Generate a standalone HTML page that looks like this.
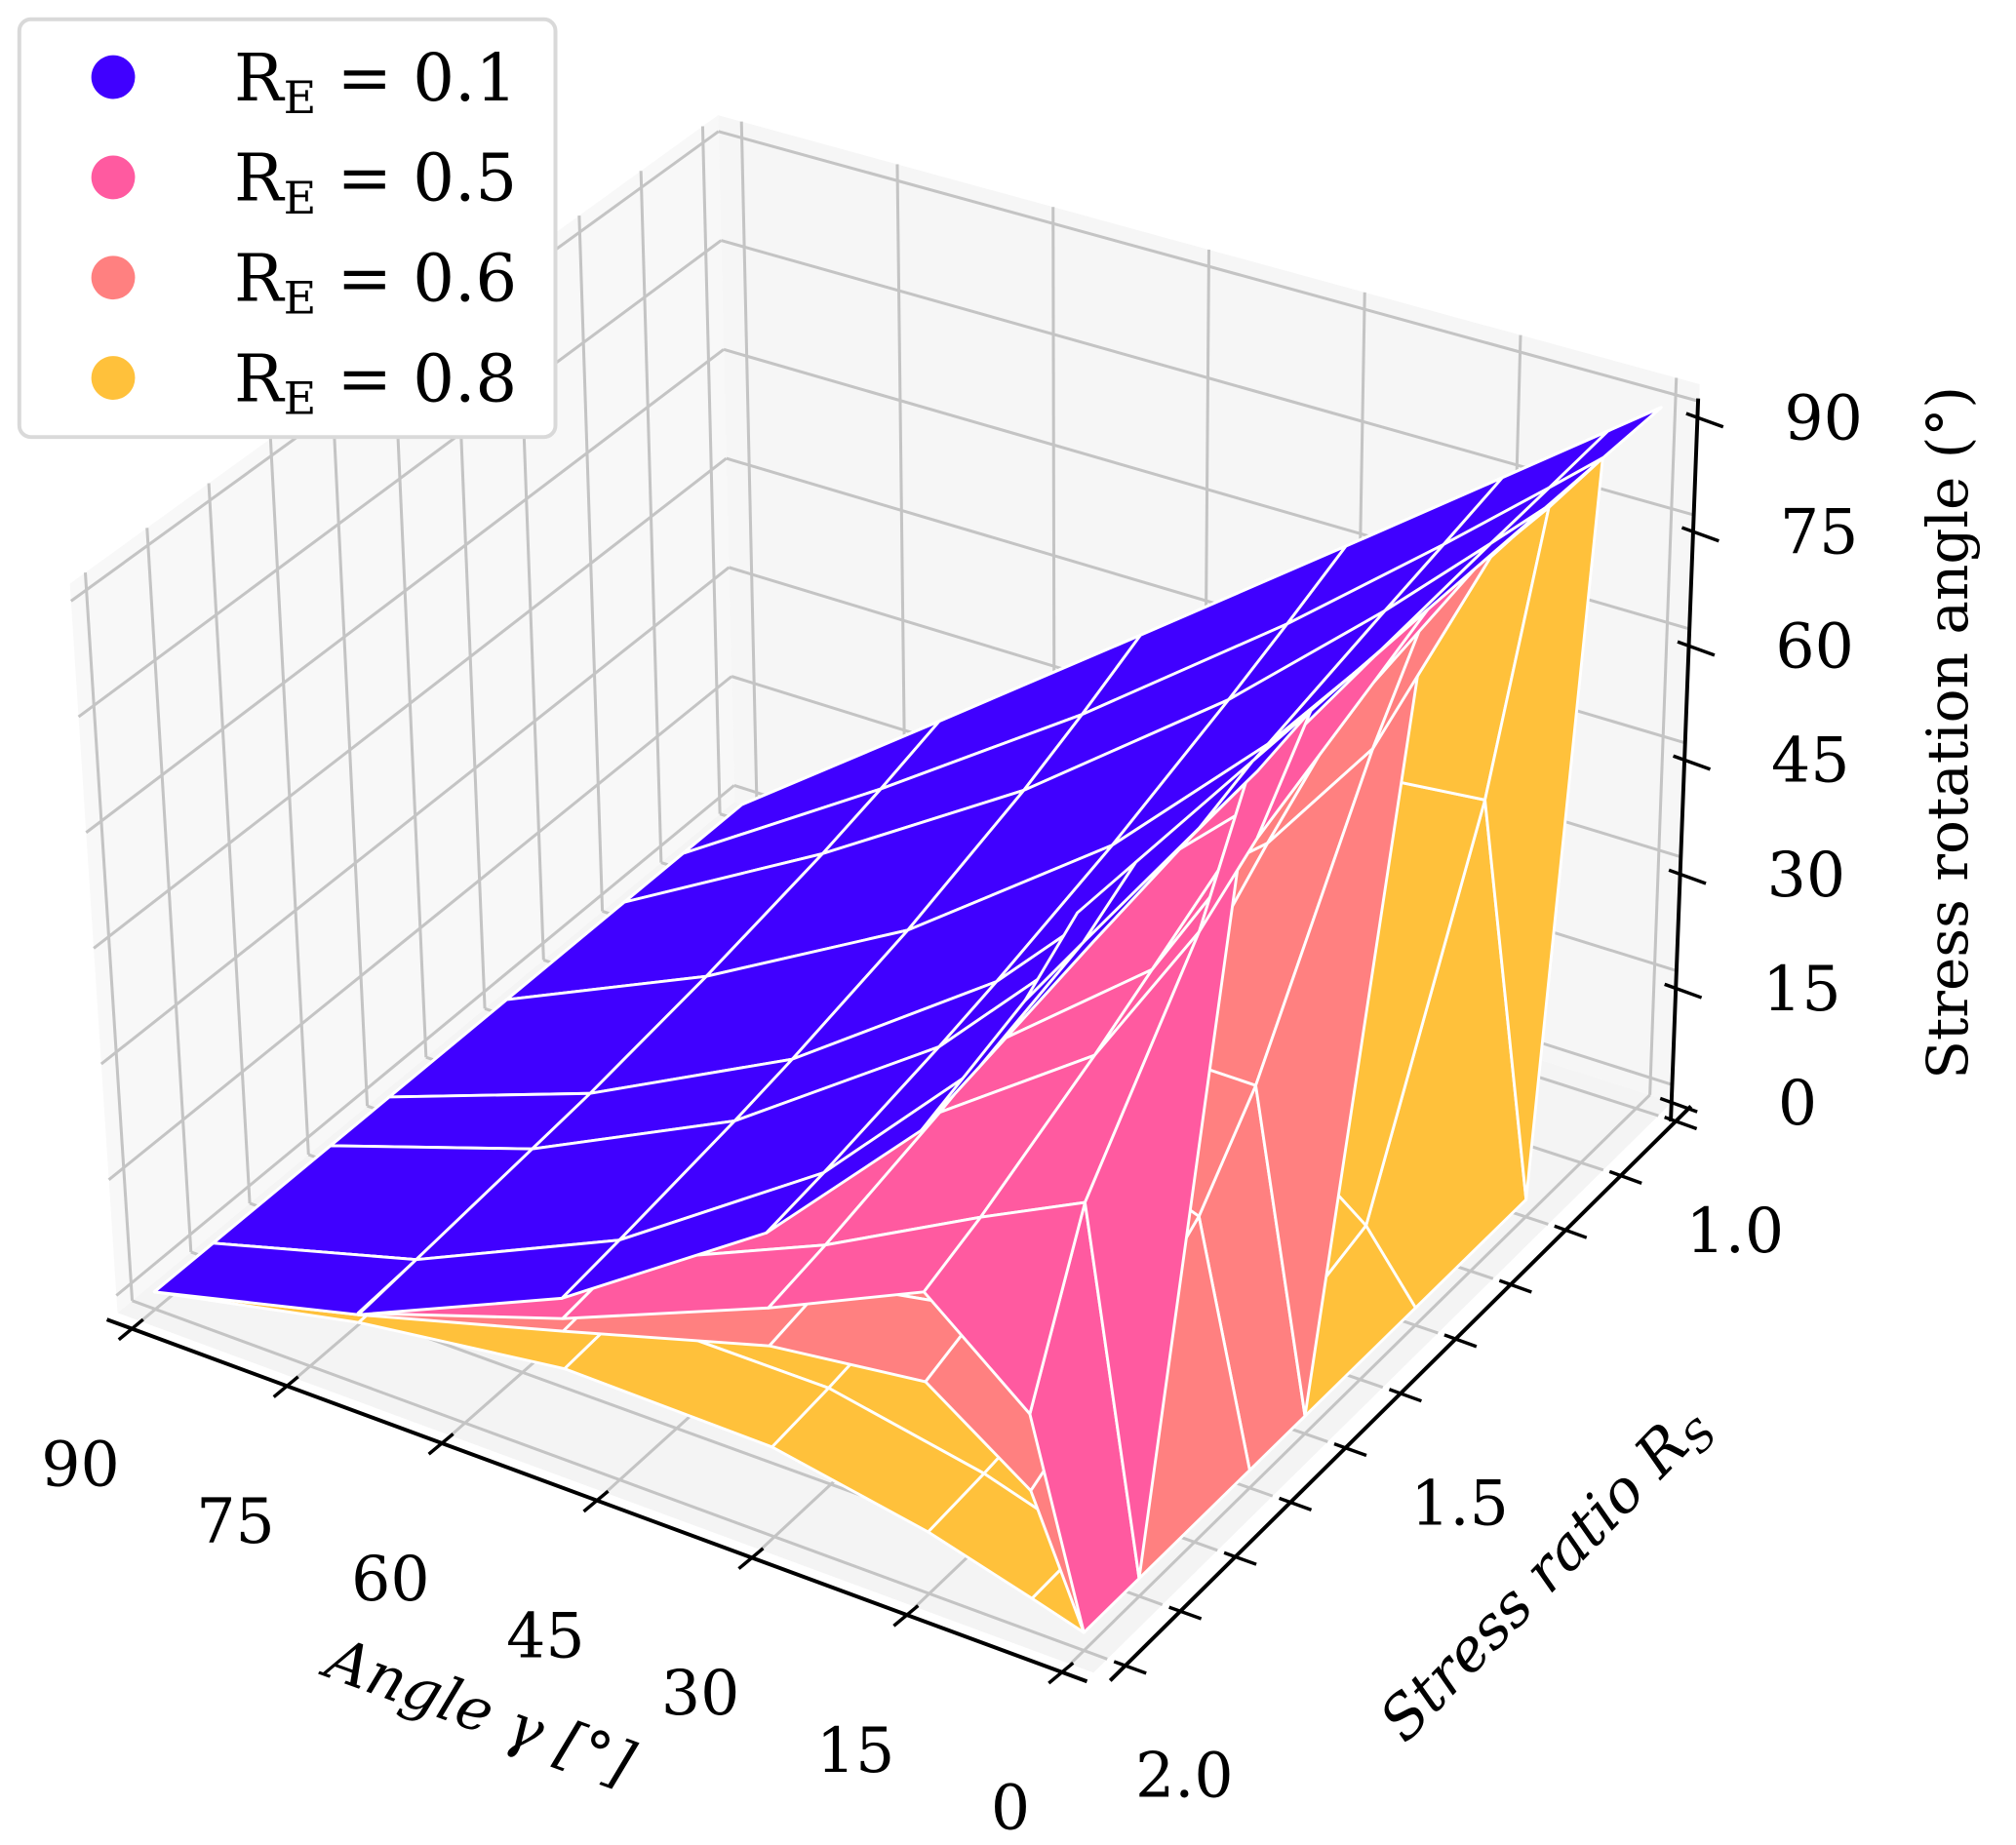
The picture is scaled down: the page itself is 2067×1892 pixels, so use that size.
<!DOCTYPE html>
<html>
<head>
<meta charset="utf-8">
<style>
html,body{margin:0;padding:0;background:#fff;}
svg{display:block;}
text{font-family:"DejaVu Serif","Liberation Serif",serif;fill:#000;}
</style>
</head>
<body>
<svg id="chart" xmlns="http://www.w3.org/2000/svg" width="2067" height="1892" viewBox="0 0 1568 1435.3">
  <rect x="0" y="0" width="1568" height="1436" fill="#ffffff"/>
  <g id="panes"></g>
  <g id="grid"></g>
  <g id="surfs"></g>
  <g id="axes"></g>
  <g id="labels"></g>

  <text font-size="46" font-style="italic" text-anchor="middle" transform="translate(368,1346) rotate(20)">Angle γ [°]</text>
  <text font-size="46" font-style="italic" text-anchor="middle" transform="translate(1212,1234) rotate(-46)">Stress ratio R<tspan font-size="32" dy="9">S</tspan></text>
  <text font-size="44" text-anchor="middle" transform="translate(1530,570) rotate(-90)">Stress rotation angle (°)</text>

  <g>
    <rect x="15" y="15" width="417" height="325" rx="9" ry="9" fill="#ffffff" stroke="#d9d9d9" stroke-width="3"/>
    <g>
      <circle cx="88" cy="60" r="17" fill="#4000FF"/>
      <text x="182" y="78" font-size="51">R<tspan font-size="35" dy="10">E</tspan><tspan dy="-10"> = 0.1</tspan></text>
    </g>
    <g>
      <circle cx="88" cy="138" r="17" fill="#FF5AA0"/>
      <text x="182" y="156" font-size="51">R<tspan font-size="35" dy="10">E</tspan><tspan dy="-10"> = 0.5</tspan></text>
    </g>
    <g>
      <circle cx="88" cy="216" r="17" fill="#FF8080"/>
      <text x="182" y="234" font-size="51">R<tspan font-size="35" dy="10">E</tspan><tspan dy="-10"> = 0.6</tspan></text>
    </g>
    <g>
      <circle cx="88" cy="294" r="17" fill="#FFC13B"/>
      <text x="182" y="312" font-size="51">R<tspan font-size="35" dy="10">E</tspan><tspan dy="-10"> = 0.8</tspan></text>
    </g>
  </g>
</svg>
<script>
// ---- data ----
const gammaVals = [90, 70, 50, 30, 15, 5, 0];
const rsVals = [1.0, 1.1, 1.2, 1.4, 1.6, 1.7, 1.9, 2.0];
const zBlue = [
  [0, 0, 0, 0, 0, 0, 0, 0],
  [20, 17.5, 15.4, 12.2, 9.8, 9.0, 7.5, 6.8],
  [40, 36.0, 32.5, 27.2, 23.4, 21.9, 19.5, 18.5],
  [60, 56.3, 52.9, 47.0, 42.4, 40.5, 37.4, 36.2],
  [75, 72.8, 70.7, 66.5, 62.6, 60.7, 57.5, 56.0],
  [85, 84.2, 83.5, 81.9, 80.2, 79.4, 77.7, 76.8],
  [90, 90, 90, 90, 90, 90, 90, 90]
];
const zPink = [
  [0, 0, 0, 0, 0, 0, 0, 0],
  [20, 16.9, 14.5, 11.4, 9.4, 8.7, 7.5, 7.0],
  [40, 34.8, 30.5, 24.5, 20.5, 19.0, 16.8, 15.9],
  [60, 55.0, 50.0, 41.2, 34.6, 32.1, 28.2, 26.7],
  [75, 71.9, 68.3, 59.7, 50.5, 46.1, 38.6, 35.7],
  [85, 83.9, 82.5, 78.6, 71.6, 66.2, 45, 25],
  [90, 90, 90, 90, 90, 90, 0, 0]
];
const zCoral = [
  [0, 0, 0, 0, 0, 0, 0, 0],
  [20, 16.4, 14.0, 10.8, 9.0, 8.3, 7.2, 6.8],
  [40, 34.0, 29.2, 22.7, 18.7, 17.3, 15.1, 14.3],
  [60, 54.0, 47.9, 37.3, 29.9, 27.3, 23.4, 21.9],
  [75, 71.2, 66.3, 53.6, 40.1, 34.8, 27.0, 24.4],
  [85, 83.6, 81.7, 70, 40, 30, 19.3, 15.4],
  [90, 90, 90, 90, 0, 0, 0, 0]
];
const zYellow = [
  [0, 0, 0, 0, 0, 0, 0, 0],
  [20, 14.6, 11.7, 8.8, 7.2, 6.8, 6.0, 5.8],
  [40, 30.1, 23.4, 16.4, 12.9, 11.7, 10.1, 9.5],
  [60, 48.2, 36.0, 20.9, 14.3, 12.5, 10.0, 9.1],
  [75, 66.2, 48.7, 18.3, 10.1, 8.3, 6.2, 5.5],
  [85, 81.6, 50, 8.4, 3.8, 3.1, 2.2, 1.9],
  [90, 90, 0, 0, 0, 0, 0, 0]
];
const gammaTicks = [90, 75, 60, 45, 30, 15, 0];
const gammaTickLabels = ['90', '75', '60', '45', '30', '15', '0'];
const rsTicks = [1.0, 1.1, 1.2, 1.3, 1.4, 1.5, 1.6, 1.7, 1.8, 1.9, 2.0];
const rsLabelVals = [1.0, 1.5, 2.0];
const rsTickLabels = ['1.0', '1.5', '2.0'];
const zTicks = [0, 15, 30, 45, 60, 75, 90];
const zTickLabels = ['0', '15', '30', '45', '60', '75', '90'];

// ---- projection (trilinear through the 8 data-box corners) ----
const C = {
  P000: [120, 1005], P100: [843, 1270], P010: [577, 626], P110: [1273, 849],
  P001: [86, 465], P101: [838, 710], P011: [565, 116], P111: [1292, 317]
};
function F(g, r, z) {
  const u = (90 - g) / 90, v = 2 - r, w = z / 90;
  let x = 0, y = 0;
  for (const k in C) {
    const a = +k[1], b = +k[2], c = +k[3];
    const wt = (a ? u : 1 - u) * (b ? v : 1 - v) * (c ? w : 1 - w);
    x += wt * C[k][0]; y += wt * C[k][1];
  }
  return [x, y];
}
function depth(g, r, z) { return 0.49 * (90 - g) / 90 + 0.73 * (r - 1) + 0.47 * z / 90; }
const NS = 'http://www.w3.org/2000/svg';
function mk(tag, parent) { const e = document.createElementNS(NS, tag); parent.appendChild(e); return e; }
function pts(a) { return a.map(p => p[0].toFixed(1) + ',' + p[1].toFixed(1)).join(' '); }

const GL = -2.25, GH = 92.25, RL = 0.975, RH = 2.025, ZL = -2.25, ZH = 92.25;

// panes
const panesG = document.getElementById('panes');
const paneDefs = [
  ['floor-pane', '#f4f4f4', [F(GH, RH, ZL), F(GL, RH, ZL), F(GL, RL, ZL), F(GH, RL, ZL)]],
  ['left-pane', '#f8f8f8', [F(GH, RH, ZL), F(GH, RL, ZL), F(GH, RL, ZH), F(GH, RH, ZH)]],
  ['back-pane', '#f6f6f6', [F(GH, RL, ZL), F(GL, RL, ZL), F(GL, RL, ZH), F(GH, RL, ZH)]]
];
for (const pd of paneDefs) {
  const p = mk('polygon', panesG);
  
  
  p.setAttribute('points', pts(pd[2]));
  p.setAttribute('fill', pd[1]);
}

// gridlines
const gridG = document.getElementById('grid');
function gline(a, b, name) {
  const l = mk('line', gridG);
  
  
  l.setAttribute('x1', a[0]); l.setAttribute('y1', a[1]);
  l.setAttribute('x2', b[0]); l.setAttribute('y2', b[1]);
  l.setAttribute('stroke', '#c4c4c4'); l.setAttribute('stroke-width', '2.3');
}
for (const g of gammaTicks) { gline(F(g, RL, ZL), F(g, RH, ZL), 'floor-gridline-gamma'); gline(F(g, RL, ZL), F(g, RL, ZH), 'back-gridline-gamma'); }
for (const r of rsTicks) { gline(F(GL, r, ZL), F(GH, r, ZL), 'floor-gridline-rs'); gline(F(GH, r, ZL), F(GH, r, ZH), 'left-gridline-rs'); }
for (const z of zTicks) { gline(F(GH, RL, z), F(GH, RH, z), 'left-gridline-z'); gline(F(GL, RL, z), F(GH, RL, z), 'back-gridline-z'); }

// surfaces
const surfs = [
  { name: 're-0.8', color: '#FFC13B', z: zYellow, bias: 0.000 },
  { name: 're-0.6', color: '#FF8080', z: zCoral, bias: 0.001 },
  { name: 're-0.5', color: '#FF5AA0', z: zPink, bias: 0.002 },
  { name: 're-0.1', color: '#4000FF', z: zBlue, bias: 0.003 }
];
const quads = [];
for (const s of surfs) {
  for (let i = 0; i < gammaVals.length - 1; i++) {
    for (let j = 0; j < rsVals.length - 1; j++) {
      const cs = [[i, j], [i + 1, j], [i + 1, j + 1], [i, j + 1]];
      let d = 0; const P = [];
      for (const [a, b] of cs) {
        const g = gammaVals[a], r = rsVals[b], z = s.z[a][b];
        d += depth(g, r, z) / 4; P.push(F(g, r, z));
      }
      quads.push({ d: d + s.bias, P: P, s: s });
    }
  }
}
quads.sort((a, b) => a.d - b.d);
const surfG = document.getElementById('surfs');
for (const q of quads) {
  const p = mk('polygon', surfG);
  
  
  p.setAttribute('points', pts(q.P));
  p.setAttribute('fill', q.s.color);
  p.setAttribute('stroke', '#ffffff');
  p.setAttribute('stroke-width', '2.2');
  p.setAttribute('stroke-linejoin', 'round');
}

// axes
const axG = document.getElementById('axes');
function aline(a, b, name, w) {
  const l = mk('line', axG);
  
  
  l.setAttribute('x1', a[0]); l.setAttribute('y1', a[1]);
  l.setAttribute('x2', b[0]); l.setAttribute('y2', b[1]);
  l.setAttribute('stroke', '#000'); l.setAttribute('stroke-width', w);
  l.setAttribute('stroke-linecap', 'square');
}
const XR = 2.04, YG = -4, ZG = -3.5;
aline(F(GH, XR, ZL), F(GL, XR, ZL), 'x-axis-line', 3);
aline(F(YG, RL, ZL), F(YG, RH, ZL), 'y-axis-line', 3);
aline(F(ZG, 1.0, ZL), F(ZG, 1.0, ZH), 'z-axis-line', 3);
const labG = document.getElementById('labels');
function txt(x, y, s, name, anchor) {
  const t = mk('text', labG);
  
  
  t.setAttribute('x', x.toFixed(1)); t.setAttribute('y', y.toFixed(1));
  t.setAttribute('font-size', '48');
  t.setAttribute('text-anchor', anchor || 'middle');
  t.textContent = s;
}
const dRs = [0.77, -0.64];
gammaTicks.forEach((g, k) => {
  const p = F(g, XR, ZL);
  aline([p[0] - 12 * dRs[0], p[1] - 12 * dRs[1]], [p[0] + 10 * dRs[0], p[1] + 10 * dRs[1]], 'x-tick', 2.6);
  txt(p[0] - 40, p[1] + 122, gammaTickLabels[k], 'x-tick-label');
});
const dG = [0.94, 0.34];
rsTicks.forEach(r => {
  const p = F(YG, r, ZL);
  aline([p[0] - 8 * dG[0], p[1] - 8 * dG[1]], [p[0] + 16 * dG[0], p[1] + 16 * dG[1]], 'y-tick', 2.6);
});
rsLabelVals.forEach((r, k) => {
  const p = F(YG, r, ZL);
  txt(p[0] + 46, p[1] + 102, rsTickLabels[k], 'y-tick-label');
});
zTicks.forEach((z, k) => {
  const p = F(ZG, 1.0, z);
  aline([p[0] - 8 * dG[0], p[1] - 8 * dG[1]], [p[0] + 20 * dG[0], p[1] + 20 * dG[1]], 'z-tick', 2.6);
  txt(p[0] + 98, p[1] + 17, zTickLabels[k], 'z-tick-label');
});
</script>
</body>
</html>
